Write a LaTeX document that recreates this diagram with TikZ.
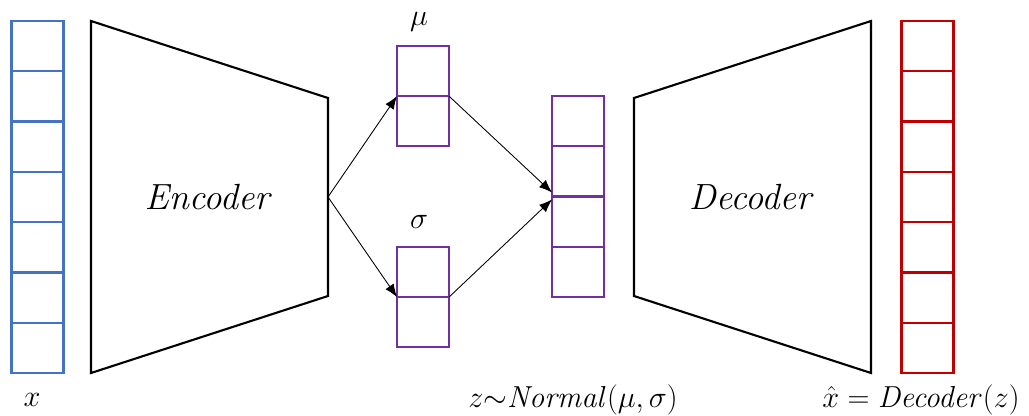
\documentclass[tikz,border=0pt]{standalone}
\usepackage{amsmath,amssymb}
\usepackage{xcolor}
\usetikzlibrary{arrows.meta,calc}

\definecolor{inblue}{HTML}{4472C4}
\definecolor{latpurple}{HTML}{7030A0}
\definecolor{outred}{HTML}{C00000}

\begin{document}
\begin{tikzpicture}[x=0.02cm, y=-0.02cm,
  cell/.style={rectangle, line width=1.3pt, inner sep=0pt, outer sep=0pt,
               minimum width=1.04cm, minimum height=1.005cm},
  trap/.style={draw=black, line width=1.2pt, line join=miter},
  lbl/.style={font=\fontsize{19}{22}\selectfont, inner sep=0pt},
  big/.style={font=\fontsize{20.5}{24}\selectfont, inner sep=0pt},
  arr/.style={-{Latex[length=2.6mm, width=2mm]}, line width=0.5pt, black},
]
\useasboundingbox (0,0) rectangle (1029,416);

% input and output columns
\foreach \i in {1,...,7} {
  \node[cell, draw=inblue] (x\i) at (37.5, {21+50.3*(\i-0.5)}) {};
  \node[cell, draw=outred] (r\i) at (927.5, {21+50.3*(\i-0.5)}) {};
}

% mean, spread and latent columns
\foreach \i in {1,2} {
  \node[cell, draw=latpurple] (mu\i) at (423, {46+50*(\i-0.5)}) {};
  \node[cell, draw=latpurple] (sg\i) at (423, {247+50*(\i-0.5)}) {};
}
\foreach \i in {1,...,4} {
  \node[cell, draw=latpurple] (z\i) at (578, {96+50.25*(\i-0.5)}) {};
}

% encoder / decoder
\draw[trap] (91,21) -- (328,98) -- (328,296) -- (91,373) -- cycle;
\draw[trap] (634,98) -- (871,21) -- (871,373) -- (634,296) -- cycle;
\coordinate (encout) at (328,197);
\node[big] (enc) at (209,197) {$\mathit{Encoder}$};
\node[big] (dec) at (752,197) {$\mathit{Decoder}$};

% labels
\node[lbl] (mulbl) at (419,22)  {$\mu$};
\node[lbl] (sglbl) at (419,222) {$\sigma$};
\node[lbl] (xlbl)  at (32,400)  {$x$};
\node[lbl] (zlbl)  at (573,400) {$z{\sim}\mathit{Normal}(\mu,\sigma)$};
\node[lbl] (xhat)  at (921,400) {$\hat{x}=\mathit{Decoder}(z)$};

\draw[arr] (encout) -- (mu1.south west);
\draw[arr] (encout) -- (sg1.south west);
\draw[arr] (mu1.south east) -- ($(z2.south west)+(0,-4)$);
\draw[arr] (sg1.south east) -- ($(z2.south west)+(0,3)$);
\end{tikzpicture}
\end{document}
